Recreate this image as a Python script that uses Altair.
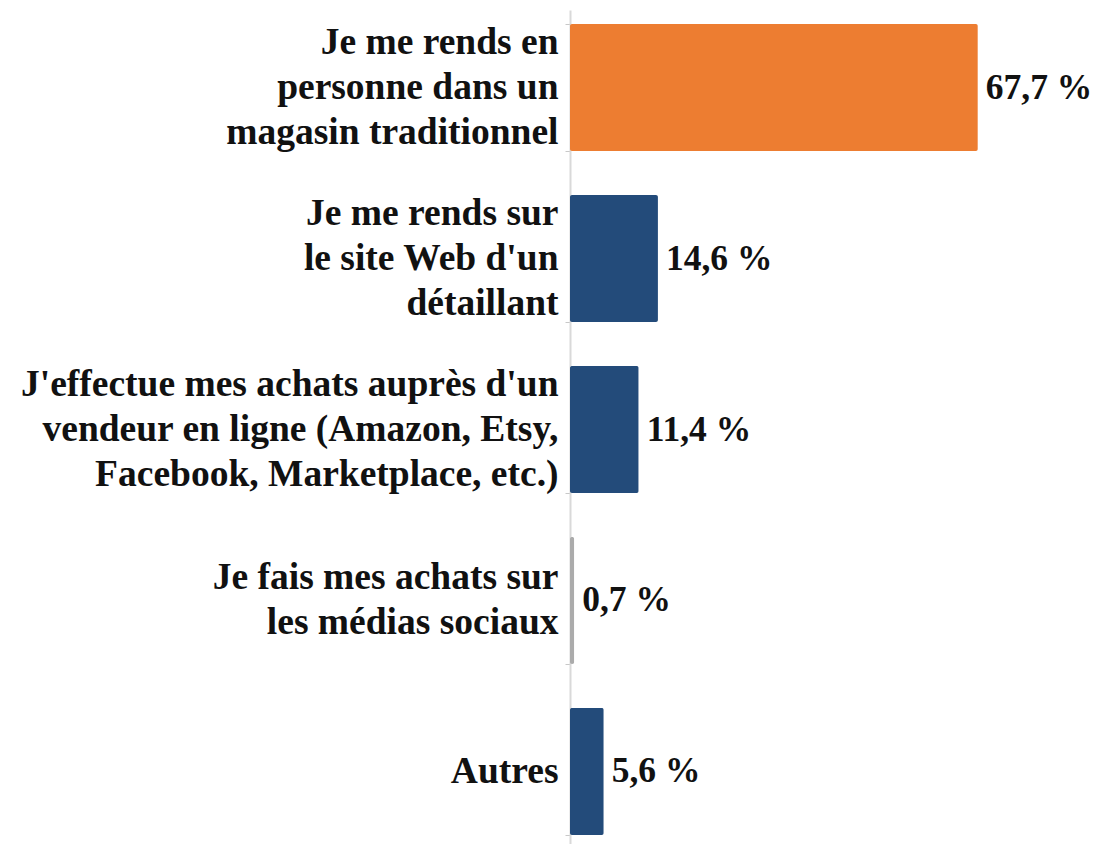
import altair as alt
import pandas as pd

categories = [
    "Je me rends en|personne dans un|magasin traditionnel",
    "Je me rends sur|le site Web d'un|détaillant",
    "J'effectue mes achats auprès d'un|vendeur en ligne (Amazon, Etsy,|Facebook, Marketplace, etc.)",
    "Je fais mes achats sur|les médias sociaux",
    "Autres",
]
values = [67.7, 14.6, 11.4, 0.7, 5.6]
labels = ["67,7 %", "14,6 %", "11,4 %", "0,7 %", "5,6 %"]
colors = ["#ED7D31", "#234B7A", "#234B7A", "#ABABAB", "#234B7A"]

df = pd.DataFrame({"cat": categories, "val": values, "lab": labels, "col": colors})

FONT = "Liberation Serif"
LH = 45

y = alt.Y(
    "cat:N",
    sort=None,
    title=None,
    scale=alt.Scale(paddingInner=0.257, paddingOuter=0.082),
    axis=alt.Axis(
        labelExpr="split(datum.label, '|')",
        labelFont=FONT,
        labelFontSize=37.5,
        labelFontWeight="bold",
        labelColor="#111111",
        labelLineHeight=LH,
        labelLimit=700,
        labelPadding=7,
        labelOffset=alt.ExprRef(f"-(length(split(datum.label, '|')) - 1) * {LH / 2}"),
        tickSize=5,
        tickBand="extent",
        tickColor="#C8C8C8",
        domainColor="#D9D9D9",
        domainWidth=2,
        grid=False,
    ),
)

x = alt.X("val:Q", title=None, scale=alt.Scale(domain=[0, 83], nice=False), axis=None)

bars = alt.Chart(df).mark_bar(cornerRadius=2).encode(
    x=x, y=y, color=alt.Color("col:N", scale=None)
)

text = alt.Chart(df).mark_text(
    align="left", baseline="middle", dx=8, font=FONT, fontSize=35.5,
    fontWeight="bold", color="#111111"
).encode(x=x, y=alt.Y("cat:N", sort=None), text="lab:N")

chart = (
    alt.layer(bars, text)
    .properties(
        width=500,
        height=839,
        background="white",
        autosize=alt.AutoSizeParams(type="none"),
        padding={"left": 562, "top": 2, "right": 21, "bottom": 0},
    )
    .configure_view(stroke=None, strokeWidth=0)
)

chart.save("out.html", embed_options={"renderer": "svg", "actions": False})
